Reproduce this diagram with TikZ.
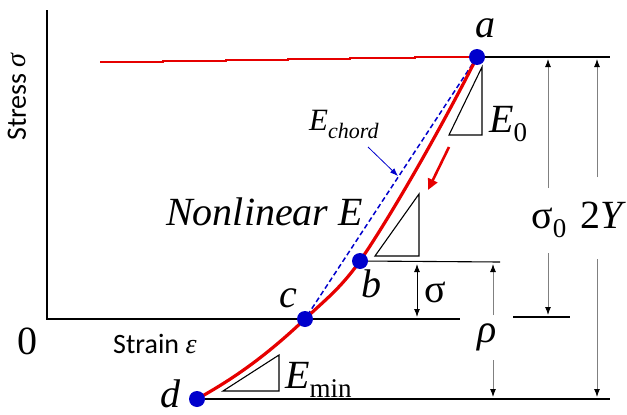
\documentclass[tikz,border=0pt]{standalone}
\usepackage{fontspec}
\setmainfont{Liberation Serif}
\newfontfamily\timesfont{Liberation Serif}
\newfontfamily\carlfont{Carlito}
\usetikzlibrary{arrows.meta}
\definecolor{curvered}{RGB}{230,0,0}
\definecolor{dotblue}{RGB}{0,0,204}
\definecolor{dimgray}{RGB}{128,128,128}
\begin{document}
\begin{tikzpicture}[x=1pt,y=-1pt,
  axisline/.style={black,line width=1.3pt},
  thinline/.style={black,line width=1.1pt},
  dimline/.style={dimgray,line width=1pt,-{Latex[length=8pt,width=6pt,color=black]}},
  sigline/.style={black,line width=1pt,{Latex[length=8pt,width=6pt]}-{Latex[length=8pt,width=6pt]}},
  slope/.style={black,line width=1.1pt},
  dotnode/.style={circle,fill=dotblue,inner sep=0pt,minimum size=16pt},
  lbl/.style={font=\timesfont\fontsize{40}{40}\selectfont\itshape,inner sep=0pt,anchor=base west},
  ulbl/.style={font=\timesfont\fontsize{40}{40}\selectfont,inner sep=0pt,anchor=base west},
  sanslbl/.style={font=\carlfont\fontsize{28}{28}\selectfont,inner sep=0pt},
  redcurve/.style={curvered,line width=3.2pt,line join=round,line cap=round}
]
\useasboundingbox (0,0) rectangle (627,415);
% coordinates
\coordinate (pa) at (477,57);
\coordinate (pb) at (360,261);
\coordinate (pc) at (305,319);
\coordinate (pd) at (197,399);
\coordinate (ytop) at (47,10);
\coordinate (orig) at (47,319);
\coordinate (xend) at (460,319);
\coordinate (topend) at (610,57);
\coordinate (bend) at (500,262);
\coordinate (s0a) at (513,317);
\coordinate (s0b) at (570,317);
\coordinate (botend) at (610,399);
% axes and level lines
\draw[axisline] (ytop) -- (orig) -- (xend);
\draw[thinline] (pa) -- (topend);
\draw[thinline] (pb) -- (bend);
\draw[thinline] (s0a) -- (s0b);
\draw[thinline] (pd) -- (botend);
% top plateau red line
\draw[redcurve,line width=2.8pt,line cap=butt,line join=miter] (100,62) -- (163,62) -- (163,61) -- (226,61) -- (226,60) -- (288,60) -- (288,59) -- (350,59) -- (350,58) -- (415,58) -- (415,57) -- (pa);
% chord
\draw[dotblue,line width=1.5pt,dash pattern=on 5pt off 3pt] (pa) -- (pc);
% unloading curve
\draw[redcurve] (pa) .. controls +(-31,62) and +(33,-48) .. (pb)
                     .. controls +(-20,28) and +(20,-19) .. (pc)
                     .. controls +(-38,36) and +(38,-21) .. (pd);
% slope triangles
\draw[slope] (449,135) -- (482,135) -- (482,67) -- cycle;
\draw[slope] (375,256) -- (419,256) -- (419,194) -- cycle;
\draw[slope] (223,391) -- (279,391) -- (279,355) -- cycle;
% red direction arrow
\coordinate (ra1) at (449,147);
\coordinate (ra2) at (428,190);
\draw[curvered,line width=2.6pt,-{Triangle[length=11pt,width=10pt]}] (ra1) -- (ra2);
% chord pointer
\coordinate (ch1) at (368,147);
\coordinate (ch2) at (398,176);
\draw[dotblue,line width=0.8pt,-{Latex[length=8pt,width=6pt]}] (ch1) -- (ch2);
% dimension arrows
\draw[sigline] (417,264) -- (417,317);
\draw[dimline] (493,315) -- (493,264);
\draw[dimline] (493,360) -- (493,397);
\draw[dimline] (548,188) -- (548,59);
\draw[dimline] (548,253) -- (548,315);
\draw[dimline] (597,177) -- (597,59);
\draw[dimline] (597,259) -- (597,397);
% dots
\node[dotnode] (a) at (pa) {};
\node[dotnode] (b) at (pb) {};
\node[dotnode] (c) at (pc) {};
\node[dotnode] (d) at (pd) {};
% labels
\node[lbl] (la) at (475,37) {a};
\node[lbl] (lb) at (361,297) {b};
\node[lbl] (lc) at (279,307) {c};
\node[lbl] (ld) at (160,407) {d};
\node[ulbl] (l0) at (17,354) {0};
\node[ulbl] (lsig) at (424,302) {σ};
\node[lbl] (lrho) at (477,342) {ρ};
\node[ulbl] (ls0) at (531,228) {σ\raisebox{-9pt}{\fontsize{27}{27}\selectfont 0}};
\node[ulbl] (l2y) at (580,228) {2\textit{Y}};
\node[lbl] (lnl) at (166,225) {Nonlinear E};
\node[lbl] (le0) at (489,132) {E\raisebox{-9pt}{\upshape\fontsize{27}{27}\selectfont 0}};
\node[lbl] (lemin) at (285,388) {E\raisebox{-9pt}{\upshape\fontsize{27}{27}\selectfont min}};
\node[inner sep=0pt,anchor=base west,font=\timesfont\fontsize{31}{31}\selectfont\itshape] (lech) at (309,130) {E\raisebox{-8pt}{\fontsize{22}{22}\selectfont chord}};
\node[sanslbl,rotate=90] (lstress) at (17,97) {Stress {\timesfont\itshape σ}};
\node[sanslbl,anchor=base west] (lstrain) at (113,353) {Strain {\timesfont\itshape ε}};
\end{tikzpicture}
\end{document}
